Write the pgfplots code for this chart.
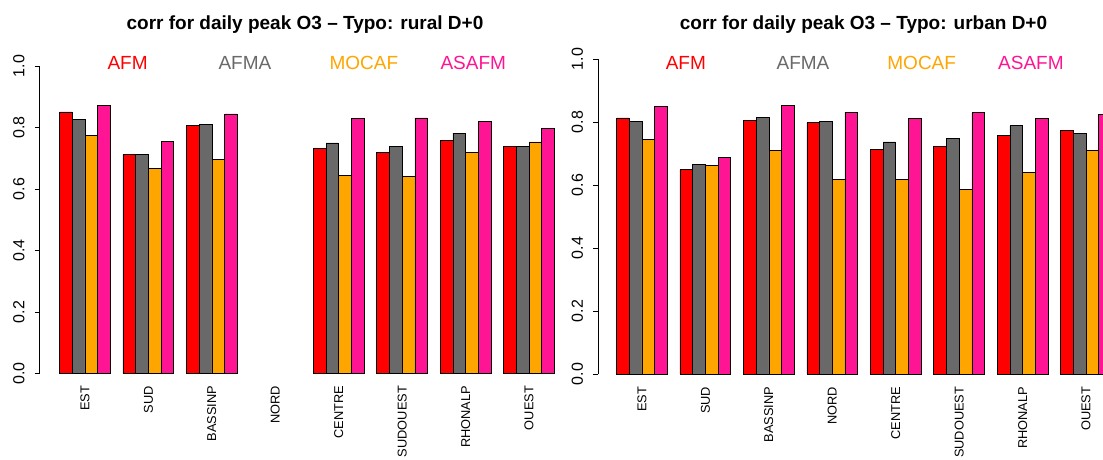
\documentclass[border=0pt]{standalone}
\usepackage{pgfplots}
\pgfplotsset{compat=1.18}
\usepackage{pgfplotstable}
\usepackage{fontspec}
\setmainfont{Liberation Sans}

\definecolor{cAFM}{HTML}{FF0000}
\definecolor{cAFMA}{HTML}{696969}
\definecolor{cMOCAF}{HTML}{FFA500}
\definecolor{cASAFM}{HTML}{FF1493}

% correlation of daily O3 peak per region (x = region index)
% rural stations: no NORD values
\pgfplotstableread{
x afm afma mocaf asafm
0 0.851 0.827 0.775 0.873
1 0.713 0.713 0.668 0.754
2 0.808 0.811 0.695 0.844
4 0.733 0.750 0.645 0.830
5 0.720 0.739 0.641 0.831
6 0.759 0.782 0.720 0.821
7 0.739 0.738 0.753 0.797
}\rural

% urban stations
\pgfplotstableread{
x afm afma mocaf asafm
0 0.813 0.801 0.744 0.849
1 0.649 0.665 0.662 0.687
2 0.804 0.814 0.709 0.852
3 0.798 0.801 0.617 0.831
4 0.712 0.737 0.617 0.812
5 0.722 0.747 0.587 0.830
6 0.757 0.788 0.640 0.812
7 0.773 0.763 0.709 0.824
}\urban

\pgfplotsset{
  panel/.style={
    scale only axis,
    axis x line*=bottom,
    axis y line*=left,
    x axis line style={draw=none},
    ymin=-0.04, ymax=1.04,
    ytick={0,0.2,0.4,0.6,0.8,1.0},
    yticklabels={0.0,0.2,0.4,0.6,0.8,1.0},
    yticklabel style={rotate=90, anchor=south, inner sep=0pt,
      font=\fontsize{16}{16}\selectfont},
    yticklabel shift=10pt,
    tick align=outside,
    major tick length=5pt,
    ytick style={black, line width=1pt},
    xtick={0,1,2,3,4,5,6,7},
    xticklabels={EST,SUD,BASSINP,NORD,CENTRE,SUDOUEST,RHONALP,OUEST},
    xticklabel style={rotate=90, anchor=east, inner sep=0pt,
      font=\fontsize{12.8}{13}\selectfont},
    xticklabel shift=-5pt,
    xtick style={draw=none},
  },
  bars/.style={ybar, bar width=0.2, draw=black, line width=0.6pt},
}

\begin{document}
\begin{tikzpicture}[x=1pt, y=1pt]
\useasboundingbox (0,0) rectangle (1103,459);

% ---- rural panel ----
\begin{axis}[panel, at={(39.8pt,73.2pt)}, anchor=south west,
  width=534.4pt, height=332.1pt, xmin=-0.711, xmax=7.711,
  y axis line style={-, line width=1pt, shorten <=12.3pt, shorten >=12.3pt}]
  \addplot[bars, fill=cAFM,   bar shift=-0.3] table[x=x, y=afm]   {\rural};
  \addplot[bars, fill=cAFMA,  bar shift=-0.1] table[x=x, y=afma]  {\rural};
  \addplot[bars, fill=cMOCAF, bar shift=0.1]  table[x=x, y=mocaf] {\rural};
  \addplot[bars, fill=cASAFM, bar shift=0.3]  table[x=x, y=asafm] {\rural};
\end{axis}

% ---- urban panel ----
\begin{axis}[panel, at={(598.3pt,72.4pt)}, anchor=south west,
  width=504.7pt, height=340.2pt, xmin=-0.687, xmax=7.267,
  y axis line style={-, line width=1pt, shorten <=12.6pt, shorten >=12.6pt}]
  \addplot[bars, fill=cAFM,   bar shift=-0.3] table[x=x, y=afm]   {\urban};
  \addplot[bars, fill=cAFMA,  bar shift=-0.1] table[x=x, y=afma]  {\urban};
  \addplot[bars, fill=cMOCAF, bar shift=0.1]  table[x=x, y=mocaf] {\urban};
  \addplot[bars, fill=cASAFM, bar shift=0.3]  table[x=x, y=asafm] {\urban};
\end{axis}

% titles
\node[anchor=base, font=\bfseries\fontsize{19}{19}\selectfont]
  at (305,429) {corr for daily peak O3 – Typo: rural D+0};
\node[anchor=base, font=\bfseries\fontsize{19}{19}\selectfont]
  at (863.5,429) {corr for daily peak O3 – Typo: urban D+0};

% model names
\begin{scope}[every node/.style={anchor=base west, inner sep=0pt,
    font=\fontsize{19}{19}\selectfont}]
  \node[text=cAFM]   at (107.3,389) {AFM};
  \node[text=cAFMA]  at (218.3,389) {AFMA};
  \node[text=cMOCAF] at (329.3,389) {MOCAF};
  \node[text=cASAFM] at (440.3,389) {ASAFM};
  \node[text=cAFM]   at (665.6,389) {AFM};
  \node[text=cAFMA]  at (776.4,389) {AFMA};
  \node[text=cMOCAF] at (887.2,389) {MOCAF};
  \node[text=cASAFM] at (998,389) {ASAFM};
\end{scope}
\end{tikzpicture}
\end{document}
